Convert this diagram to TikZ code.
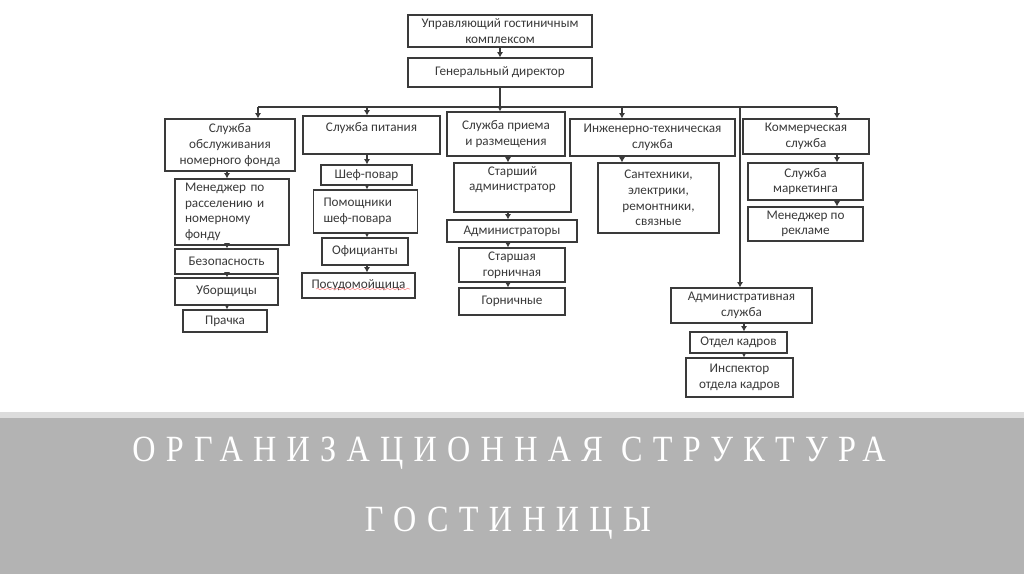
\documentclass[tikz,border=0pt]{standalone}
\usepackage{fontspec}
\setmainfont{Carlito}
\newfontfamily\titlefont[LetterSpace=32]{Liberation Serif}
\usepackage{tikz}
\usetikzlibrary{arrows.meta,decorations.pathmorphing}

\definecolor{band}{HTML}{B3B3B3}
\definecolor{bandlight}{HTML}{DCDCDC}
\definecolor{ink}{HTML}{3A3A3A}

\begin{document}
\begin{tikzpicture}[x=0.5pt, y=-0.5pt,
  every node/.style={font=\fontsize{6.6}{7.8}\selectfont, text=ink},
  box/.style={draw=ink, line width=0.6pt, align=center, inner sep=1.5pt},
  lbox/.style={box, align=left, inner xsep=5pt},
  arr/.style={draw=ink, line width=0.6pt, -{Latex[length=2.6pt,width=3pt]}},
  title/.style={font=\titlefont\fontsize{18.5}{20}\selectfont, text=white, xscale=0.87, transform shape}]
\useasboundingbox (0,0) rectangle (1024,574);
\fill[white] (0,0) rectangle (1024,574);
% top of the chart
\node[box, minimum width=92pt, minimum height=16pt] (mgr) at (500,31) {Управляющий гостиничным\\ комплексом};
\node[box, minimum width=92pt, minimum height=14.5pt] (gd) at (500,72.5) {Генеральный директор};
% services
\node[box, minimum width=65pt, minimum height=26pt] (s1) at (230,145) {Служба\\ обслуживания\\ номерного фонда};
\node[box, minimum width=68.5pt, minimum height=19pt] (s2) at (371.5,135) {Служба питания\\ \mbox{}};
\node[box, minimum width=59pt, minimum height=22pt] (s3) at (506,134) {Служба приема\\ и размещения};
\node[box, minimum width=82.5pt, minimum height=18.5pt] (s4) at (652.5,137.5) {Инженерно-техническая\\ служба};
\node[box, minimum width=63pt, minimum height=17.5pt] (s5) at (806,136.5) {Коммерческая\\ служба};
% room service
\node[lbox, text width=47pt, minimum height=33pt] (m1) at (232,212) {Менеджер по\\ расселению и\\ номерному\\ фонду};
\node[box, minimum width=51.5pt, minimum height=12.5pt] (m2) at (226.5,261.5) {Безопасность};
\node[box, minimum width=51.5pt, minimum height=13.5pt] (m3) at (226.5,291.5) {Уборщицы};
\node[box, minimum width=42pt, minimum height=11pt] (m4) at (225,321) {Прачка};
% food
\node[box, minimum width=45.5pt, minimum height=10pt] (p1) at (366.5,175) {Шеф-повар};
\node[lbox, text width=42pt, minimum height=21.5pt] (p2) at (365.5,211.5) {Помощники\\ шеф-повара};
\node[box, minimum width=43pt, minimum height=13.5pt] (p3) at (365,251.5) {Официанты};
\node[box, minimum width=56.5pt, minimum height=12.5pt] (p4) at (358.5,285.5) {Посудомойщица};
% front desk
\node[box, minimum width=58.5pt, minimum height=24.5pt] (a1) at (512.5,187.5) {Старший\\ администратор\\[1pt]};
\node[box, minimum width=65pt, minimum height=11pt] (a2) at (512,231) {Администраторы};
\node[box, minimum width=53pt, minimum height=17pt] (a3) at (512,265) {Старшая\\ горничная};
\node[box, minimum width=53pt, minimum height=13.5pt] (a4) at (512,301.5) {Горничные};
% engineering
\node[box, minimum width=60.5pt, minimum height=35pt] (e1) at (658.5,198) {Сантехники,\\ электрики,\\ ремонтники,\\ связные};
% commerce
\node[box, minimum width=57.5pt, minimum height=18.5pt] (k1) at (805.5,181.5) {Служба\\ маркетинга};
\node[box, minimum width=57.5pt, minimum height=17pt] (k2) at (805.5,224) {Менеджер по\\ рекламе};
% administration
\node[box, minimum width=70.5pt, minimum height=17.5pt] (ad1) at (741.5,305.5) {Административная\\ служба};
\node[box, minimum width=48.5pt, minimum height=10.5pt] (ad2) at (738.5,342.5) {Отдел кадров};
\node[box, minimum width=53.5pt, minimum height=19.5pt] (ad3) at (739.5,377.5) {Инспектор\\ отдела кадров};
% branch points
\coordinate (b1) at (258,107); \coordinate (b2) at (367,107); \coordinate (b4) at (622,107);
\coordinate (b5) at (837,107); \coordinate (b6) at (740,107);
\coordinate (c1) at (227,0); \coordinate (c2) at (367,0); \coordinate (c3) at (508,0); \coordinate (c6) at (744,0);
% connectors
\draw[arr] (mgr) -- (gd); \draw[arr] (gd.south) -- (gd.south |- s3.north);
\draw[draw=ink, line width=0.6pt] (b1) -- (b5);
\draw[arr] (b1) -- (b1 |- s1.north); \draw[arr] (b2) -- (b2 |- s2.north); \draw[arr] (b4) -- (b4 |- s4.north);
\draw[arr] (b5) -- (b5 |- s5.north); \draw[arr] (b6) -- (b6 |- ad1.north);
\draw[arr] (s1.south -| c1) -- (m1.north -| c1); \draw[arr] (m1.south -| c1) -- (m2.north -| c1);
\draw[arr] (m2.south -| c1) -- (m3.north -| c1); \draw[arr] (m3.south -| c1) -- (m4.north -| c1);
\draw[arr] (s2.south -| c2) -- (p1.north -| c2); \draw[arr] (p1.south -| c2) -- (p2.north -| c2);
\draw[arr] (p2.south -| c2) -- (p3.north -| c2); \draw[arr] (p3.south -| c2) -- (p4.north -| c2);
\draw[arr] (s3.south -| c3) -- (a1.north -| c3); \draw[arr] (a1.south -| c3) -- (a2.north -| c3);
\draw[arr] (a2.south -| c3) -- (a3.north -| c3); \draw[arr] (a3.south -| c3) -- (a4.north -| c3);
\draw[arr] (s4.south -| b4) -- (e1.north -| b4);
\draw[arr] (s5.south -| b5) -- (k1.north -| b5); \draw[arr] (k1.south -| b5) -- (k2.north -| b5);
\draw[arr] (ad1.south -| c6) -- (ad2.north -| c6); \draw[arr] (ad2.south -| c6) -- (ad3.north -| c6);
\draw[red!45, line width=0.3pt, decorate, decoration={snake, amplitude=0.4pt, segment length=2.5pt}] (316,289) -- (410,289);
% title band
\fill[bandlight] (0,412) rectangle (1024,418);
\fill[band] (0,418) rectangle (1024,574);
\node[title] (t1) at (509,453) {ОРГАНИЗАЦИОННАЯ СТРУКТУРА};
\node[title] (t2) at (508,523) {ГОСТИНИЦЫ};
\end{tikzpicture}
\end{document}
